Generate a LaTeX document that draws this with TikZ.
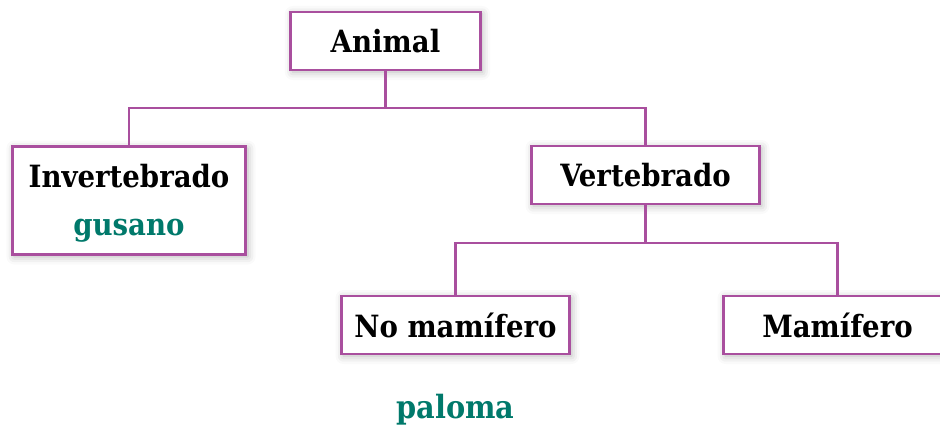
\documentclass[tikz,border=0pt]{standalone}
\usepackage{fontspec}
\setmainfont{DejaVu Serif Condensed}
\usetikzlibrary{shadows.blur}
\definecolor{linea}{HTML}{A94F9E}
\definecolor{verde}{HTML}{00796B}
\tikzset{
  caja/.style={draw=linea, line width=2.2pt, fill=white, minimum width=171pt, minimum height=43.5pt,
    font=\bfseries\fontsize{23}{27}\selectfont, inner sep=0pt,
    blur shadow={shadow xshift=1.5pt, shadow yshift=-1.5pt, shadow blur radius=6pt, shadow opacity=30}},
  rama/.style={draw=linea, line width=2.2pt}
}
\begin{document}
\begin{tikzpicture}[x=0.75pt, y=-0.75pt]
\useasboundingbox (0,0) rectangle (940,428);
\begin{scope}
\clip (0,0) rectangle (940,428);
\node (A) at (385.5,41) [caja, minimum width=142pt] {Animal};
\node (I) at (129,200.5) [caja, minimum width=175pt, minimum height=81pt, align=center]
  {\rule{0pt}{21pt}Invertebrado\\[9pt]\textcolor{verde}{gusano}};
\node (V) at (645.5,175) [caja] {Vertebrado};
\node (N) at (455.5,325) [caja] {No mamífero};
\node (M) at (837.5,325) [caja] {Mamífero};

\coordinate (J1) at (385.5,108);
\coordinate (J2) at (645.5,243);

\draw [rama] (A) -- (J1);
\draw [rama] (I.north) |- (J1) -| (V.north);
\draw [rama] (V) -- (J2);
\draw [rama] (N.north) |- (J2) -| (M.north);
\end{scope}

\node (P) at (455.5,410) [font=\bfseries\fontsize{24}{28}\selectfont, text=verde] {paloma};
\end{tikzpicture}
\end{document}
